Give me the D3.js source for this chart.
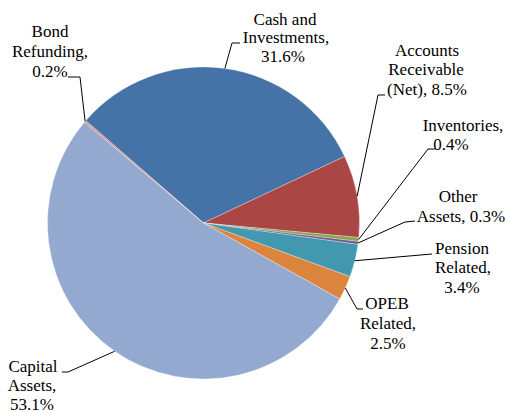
<!DOCTYPE html>
<html><head><meta charset="utf-8"><script src="https://cdn.jsdelivr.net/npm/d3@7"></script>
<style>
  html, body { margin: 0; padding: 0; background: #fff; }
  #wrap { position: relative; width: 508px; height: 412px; overflow: hidden; }
  #chart { position: absolute; left: 0; top: 0; display: block; }
  .lbl { position: absolute; white-space: nowrap; font-family: "Liberation Serif", "Times New Roman", Tinos, serif;
         font-size: 17px; line-height: 19px; color: #000; transform: translateX(-50%); }
</style>
</head>
<body>
<div id="wrap"><svg id="chart" width="508" height="412"></svg></div>
<script>
// ---- data ----
const categories = ["Cash and Investments", "Accounts Receivable (Net)", "Inventories", "Other Assets",
                    "Pension Related", "OPEB Related", "Capital Assets", "Bond Refunding"];
const values = [31.6, 8.5, 0.4, 0.3, 3.4, 2.5, 53.1, 0.2];
const colors = ["#4572A7", "#AA4643", "#89A54E", "#71588F", "#4198AF", "#DB843D", "#93A9CF", "#D19392"];
// label text lines (category name split as in the chart, then value)
const labelNameLines = [
  ["Cash and", "Investments,"],
  ["Accounts", "Receivable", "(Net), "],
  ["Inventories,"],
  ["Other", "Assets, "],
  ["Pension", "Related,"],
  ["OPEB", "Related,"],
  ["Capital", "Assets,"],
  ["Bond", "Refunding,"]
];
// ---- layout (label positions: centre x of each line, first baseline, leader elbow/start) ----
const labelLayout = [
  { xs: [285, 286, 283], y0: 25, lh: 18.6, lead: [[240, 43], [232, 43]] },
  { xs: [427, 426, 427], y0: 56, lh: 19.5, lead: [[385, 95], [378, 95]] },
  { xs: [463, 451], y0: 131, lh: 19, lead: [[436, 149], [428, 149]] },
  { xs: [458, 461], y0: 202, lh: 20, lead: [[415, 221], [405, 222]] },
  { xs: [462, 463, 462], y0: 254, lh: 19.5, lead: [[432, 254]] },
  { xs: [387, 388, 388], y0: 309, lh: 20, lead: [[363, 309], [357, 309]] },
  { xs: [33, 32, 32], y0: 372, lh: 19, lead: [[62, 372], [68, 372]] },
  { xs: [50, 50, 50], y0: 37, lh: 20, lead: [[68, 77], [80, 77]] }
];

const svg = d3.select("#chart");
const wrap = d3.select("#wrap");
const cx = 203.5, cy = 223, r = 156;
const start = -49 * Math.PI / 180;

const pie = d3.pie().value(d => d).sort(null)
  .startAngle(start).endAngle(start + 2 * Math.PI);
const arcs = pie(values);
const arc = d3.arc().innerRadius(0).outerRadius(r);
const edgeArc = d3.arc().innerRadius(r).outerRadius(r);

const g = svg.append("g").attr("transform", `translate(${cx},${cy})`);
g.selectAll("path.slice").data(arcs).enter().append("path")
  .attr("class", "slice")
  .attr("d", arc)
  .attr("fill", (d, i) => colors[i])
  .attr("stroke", "#ffffff")
  .attr("stroke-width", 0.3);

// leader lines
const fmt = v => d3.format(".1f")(v) + "%";
arcs.forEach((a, i) => {
  const L = labelLayout[i];
  const c = edgeArc.centroid(a);
  const pts = L.lead.concat([[cx + c[0], cy + c[1]]]);
  svg.append("path")
    .attr("d", d3.line()(pts))
    .attr("fill", "none")
    .attr("stroke", "#000")
    .attr("stroke-width", 1);
});

// labels as HTML text (baseline ≈ top + 15.2 px for a 17px serif with 19px line-height)
const baseOff = 15.2;
arcs.forEach((a, i) => {
  const L = labelLayout[i];
  const lines = labelNameLines[i].slice();
  const last = lines[lines.length - 1];
  if (last.endsWith(" ")) lines[lines.length - 1] = last + fmt(values[i]);
  else lines.push(fmt(values[i]));
  lines.forEach((s, k) => {
    const x = L.xs[Math.min(k, L.xs.length - 1)];
    wrap.append("div")
      .attr("class", "lbl")
      .style("left", x + "px")
      .style("top", (L.y0 + k * L.lh - baseOff) + "px")
      .text(s);
  });
});
</script>
</body>
</html>
